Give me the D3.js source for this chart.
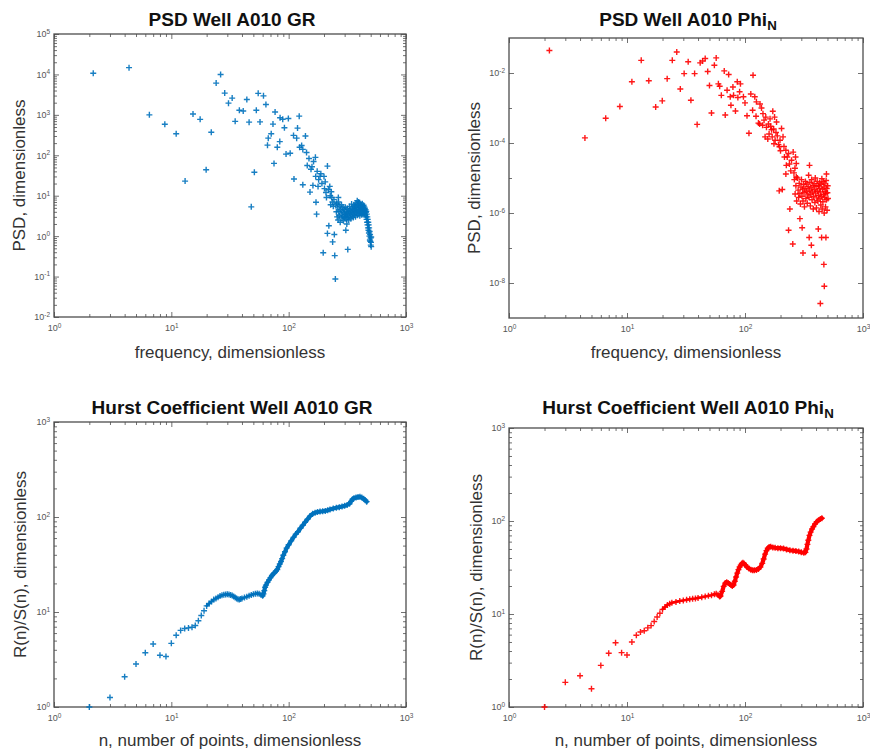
<!DOCTYPE html>
<html>
<head>
<meta charset="utf-8">
<script src="https://cdn.jsdelivr.net/npm/d3@7"></script>
<style>
  body { margin: 0; background: #fff; }
  text { font-family: "Liberation Sans", Arial, sans-serif; }
</style>
</head>
<body>
<script>
// ---- data: [x, y] pairs ----
const psdGr = [
  [2.16,1.07e4],[4.36,1.47e4],[6.5,1000],[8.8,585],[11.0,340],[13.1,23],[15.3,1050],[17.6,775],
  [19.8,44],[21.9,370],[24.1,6100],[26.3,1.0e4],[28.5,3450],[30.7,1950],[33,2600],[35,690],
  [38,1300],[41,1250],[44,2400],[46,660],[48,5.3],[51,38],[53,1300],[55,3400],[57,670],
  [61,2950],[64,1800],[66,178],[67,265],[71,340],[73.5,590],[75,63],[76.6,1180],[80,158],
  [84,218],[84.5,850],[89,780],[92,480],[95,107],[99.4,810],[103,112],[110,310],[111,26],
  [117,265],[119,470],[123,930],[124,158],[129,175],[132,140],[132,18.6],[139,300],[142,117],
  [144,56],[149,83],[152,12.3],[155,45],[158,52],[161,18],[163,70],[169,89],[170,30],[171,6.9],
  [173,3.5],[175,40],[178,17],[180,25],[185,30],[188,35],[192,20],[197,0.39],[200,30],[202,15],
  [205,22],[208,12],[210,9],[214,54],[214,1.17],[218,14],[220,1.8],[224,17],[226,10],[228,6],
  [231,12.5],[233,9],[236,7],[237,0.72],[240,5.5],[243,8],[245,1.1],[247,0.33],[250,0.087],
  [253,6],[255,4],[257,6.5],[259,3],[262,5],[264,2.5],[265,9],[266,7],[268,4],[270,3.2],
  [273,5.5],[275,2.2],[277,4.5],[280,3.5],[282,6],[284,2.8],[286,4.2],[289,3],[291,5],[293,2.4],
  [295,3.8],[298,4.6],[300,2.9],[302,3.4],[304,5.2],[306,3.1],[307,1.4],[309,4],[311,2.6],
  [313,2.0],[314,3.6],[316,4.8],[318,2.9],[319,0.47],[321,3.3],[323,4.2],[325,2.5],[328,3.8],
  [330,5.4],[332,3],[335,4.4],[337,3.5],[339,2.7],[342,4],[344,6.2],[346,3.2],[348,4.7],
  [351,3.6],[353,5],[355,2.9],[357,4.3],[360,6],[362,3.4],[364,4.9],[366,3.9],[368,5.3],
  [369,5.6],[371,3],[373,4.5],[375,6.6],[378,3.7],[380,5.1],[382,4],[384,7.5],[386,3.3],
  [389,5.8],[391,4.4],[392,7],[393,6.2],[395,3.6],[397,5],[400,4.1],[402,6.8],[404,3.2],
  [406,5.4],[408,4.5],[411,6],[413,3.8],[415,4.9],[417,5.7],[419,3.4],[422,4.6],[424,6.3],
  [426,4],[428,5.2],[430,3.5],[433,4.8],[435,5.8],[437,3.9],[439,4.4],[441,5.3],[444,3.6],
  [446,4.9],[448,4.2],[450,3.3],[452,4.5],[455,3.9],[457,3],[459,4.1],[461,2.6],[463,3.5],
  [466,2.2],[468,3],[470,1.9],[472,2.6],[474,1.6],[477,2.2],[479,1.4],[481,1.9],[483,1.2],
  [485,1.6],[488,1.0],[490,1.3],[492,0.8],[494,1.1],[496,0.75],[499,0.9],[501,0.6],[503,0.7],
  [505,0.95],[505,0.55]
];

const psdPhi = [
  [2.2,0.044],[4.4,1.4e-4],[6.6,5.1e-4],[8.7,1.1e-3],[11,5.6e-3],[13.2,0.023],[15.3,6e-3],
  [17.5,1.07e-3],[19.9,1.6e-3],[21.9,6.9e-3],[24.2,0.023],[26.4,0.04],[28.3,3.5e-3],[30.5,9.6e-3],
  [33,0.021],[34.8,1.66e-3],[37.4,9.6e-3],[39.3,3.4e-4],[41.7,0.0195],[43.7,0.022],[46,0.026],
  [48.3,0.011],[50,4.4e-3],[52,7.2e-4],[55,0.0167],[57,0.027],[59.5,4.9e-3],[61,4.2e-3],
  [63,2.3e-3],[66.7,0.0115],[68,6.3e-4],[70.5,3.2e-3],[72.7,9.1e-3],[75,2.1e-3],[76,1.2e-3],
  [79,4e-3],[80,2.3e-3],[83,8.2e-4],[86,5.6e-3],[87,2e-3],[90,2.9e-3],[91.5,4.9e-3],[97,2.1e-3],
  [100,1.4e-3],[104,6e-4],[108,1.9e-4],[112,2.5e-3],[116,8.6e-4],[117,8.6e-3],[121,2.1e-3],
  [124,5.8e-4],[125,1.5e-3],[130,3.7e-4],[133,3.5e-4],[134,1.3e-3],[138,1e-3],[141,3.2e-4],
  [142,6.9e-4],[145,4.5e-4],[148,1.5e-4],[150,5.5e-4],[152,2.8e-4],[156,1.3e-4],[158,3.5e-4],
  [160,1.8e-4],[163,4.9e-4],[165,3e-4],[168,2.4e-4],[170,1.5e-4],[172,8.1e-4],[175,2.5e-4],
  [176,9.5e-5],[178,5.5e-4],[180,1.2e-4],[183,2e-4],[185,4e-4],[188,1.6e-4],[192,9e-5],
  [195,4.3e-6],[196,7.8e-5],[198,1.2e-4],[200,6e-5],[204,2.6e-4],[207,4.7e-6],[210,1.5e-4],
  [214,8e-5],[216,4e-5],[222,6.2e-5],[222,1.3e-5],[224,2.3e-5],[228,4e-5],[234,5e-5],[234,3.2e-7],
  [238,2.5e-5],[240,1.3e-6],[244,1.6e-5],[248,3.2e-5],[254,1.3e-7],[256,5.5e-5],[260,1.4e-5],
  [262,9e-6],[265,1.9e-5],[266,3.5e-6],[268,4e-5],[270,6e-6],[272,2.6e-5],[272,1.07e-5],
  [274,2.2e-6],[278,1e-5],[282,4.5e-6],[285,2.8e-6],[288,7e-6],[292,3.6e-6],[292,6.9e-7],
  [295,1.8e-6],[298,5.5e-6],[301,9e-6],[304,3e-6],[305,3.8e-7],[307,4.8e-6],[310,2.2e-6],
  [310,7.2e-8],[313,6.5e-6],[316,3.8e-6],[319,1.5e-6],[322,5e-6],[325,8e-6],[328,2.6e-6],
  [331,4.2e-6],[334,6.8e-6],[337,1.9e-6],[340,3.3e-6],[343,5.6e-6],[346,1.2e-5],[349,2.8e-6],
  [350,2e-7],[352,2.3e-5],[352,4.5e-6],[355,7.5e-6],[358,1.6e-6],[361,3.5e-6],[364,5.2e-6],
  [365,1.2e-7],[367,9e-6],[370,2.4e-6],[373,4e-6],[376,6.2e-6],[379,1.3e-6],[382,3e-6],
  [385,7e-6],[388,4.6e-6],[390,6.2e-8],[391,2e-6],[394,1e-5],[397,3.7e-6],[400,5.8e-6],
  [403,1.4e-6],[406,2.7e-6],[409,8e-6],[412,4.2e-6],[415,2.2e-6],[418,6e-6],[418,3.5e-7],
  [421,3.2e-6],[424,1.1e-6],[427,5e-6],[430,7.2e-6],[433,2.5e-6],[435,2.6e-9],[436,4e-6],
  [439,1.7e-6],[442,6.5e-6],[445,3e-6],[446,2e-7],[448,9.5e-6],[451,1.3e-6],[454,4.8e-6],
  [457,2.1e-6],[460,7.8e-6],[463,3.4e-6],[466,5.5e-6],[466,3.4e-8],[469,1e-6],[470,8.1e-9],
  [472,2.8e-6],[475,6.8e-6],[478,4.2e-6],[481,1.5e-6],[484,3.6e-6],[485,2e-7],[487,8.5e-6],
  [490,1.3e-5],[490,2.4e-6],[493,5e-6],[496,1.2e-6],[499,3.8e-6],[502,6e-6],[505,2.6e-6]
];

const hurstGr = [
  [2,1.0],[3,1.26],[4,2.08],[5,2.84],[6,3.73],[7,4.6],[8,3.5],[9,3.4],[10,4.68],[11,5.7],
  [12,6.4],[13,6.7],[14,6.8],[15,6.9],[16,7.2],[17,8.1],[18,9.2],[19,10.3],[20,11.6],[21,12.3],
  [22,12.9],[23,13.5],[24,13.9],[25,14.3],[26,14.7],[27,15.0],[28,15.2],[29,15.3],[30,15.4],
  [31,15.3],[32,15.1],[33,14.9],[34,14.6],[35,14.2],[36,13.9],[37,13.6],[38,13.5],[39,13.7],
  [40,13.9],[42,14.2],[44,14.5],[46,14.8],[48,15.1],[50,15.4],[52,15.6],[54,15.7],[56,15.6],
  [58,15.2],[60,14.8],[61,15.5],[62,16.8],[63,18.2],[64,19.2],[66,20.5],[68,21.8],[70,23],
  [72,24.2],[74,25.2],[76,26],[78,27],[80,28],[82,30],[84,32],[86,34],[88,36.5],[90,39.5],
  [93,43],[96,47],[100,51],[105,56],[110,61],[115,66],[120,70],[126,76],[132,82],[138,88],
  [145,95],[152,102],[160,108],[168,111],[176,113],[185,114],[195,115],[205,116],[215,118],
  [225,120],[240,123],[255,125],[270,127],[285,129],[300,131],[315,134],[330,138],[340,146],
  [350,154],[360,158],[375,160],[390,162],[405,163],[420,160],[435,156],[450,150],[462,145]
];

const hurstPhi = [
  [2,1.0],[3,1.84],[4,2.17],[5,1.57],[6,2.8],[7,3.78],[8,4.9],[9,3.84],[10,3.62],[11,5.0],
  [12,5.9],[13,6.4],[14,6.6],[15,7.1],[16,7.5],[17,8.3],[18,9.3],[19,10.2],[20,11.2],[21,11.9],
  [22,12.5],[23,12.9],[24,13.2],[26,13.5],[28,13.8],[30,14.0],[32,14.2],[34,14.4],[36,14.6],
  [38,14.7],[40,14.9],[43,15.1],[46,15.4],[49,15.7],[52,15.9],[55,16.3],[57,16.5],[59,16.1],
  [61,15.4],[62,15.6],[64,17.5],[66,19.8],[68,21.5],[70,22],[72,21.5],[74,21],[76,20.5],
  [78,20],[80,20.5],[82,22.5],[84,25],[86,27.5],[88,30],[90,32],[92,33.5],[94,35],[96,35.5],
  [98,35],[101,33.5],[104,32],[108,30.8],[112,30],[116,29.6],[120,29.5],[125,29.8],[130,30.5],
  [135,32],[140,35],[144,39],[148,44],[152,48],[156,51],[160,52.5],[165,53],[172,52],
  [180,51.5],[190,51],[200,51],[212,50.5],[225,49.5],[240,48.5],[255,48],[270,47.5],[285,47],
  [300,46],[315,45.5],[325,46],[332,50],[338,56],[344,62],[352,70],[360,76],[370,82],[380,87],
  [392,93],[405,98],[420,102],[435,105],[448,107]
];

const xTickExps = [0, 1, 2, 3];
const yTickExpsPsdGr = [-2, -1, 0, 1, 2, 3, 4, 5];
const yTickExpsPsdPhi = [-8, -6, -4, -2];
const yTickExpsHurst = [0, 1, 2, 3];

const BLUE = "#0072BD", RED = "#FF0000";

const svg = d3.select("body").append("svg")
  .attr("width", 870).attr("height", 751);

function minorsFor(lo, hi) {
  const out = [];
  for (let e = lo; e < hi; e++)
    for (let m = 2; m <= 9; m++) out.push(m * Math.pow(10, e));
  return out;
}

function supLabel(sel) {
  sel.each(function(d) {
    const t = d3.select(this);
    const e = Math.round(Math.log10(d));
    t.text("10");
    t.append("tspan").attr("dy", "-0.55em").attr("font-size", "0.72em").text(e);
  });
}

function panel(cfg) {
  const g = svg.append("g");
  const x = d3.scaleLog().domain([1, 1000]).range([cfg.x0, cfg.x1]);
  const y = d3.scaleLog().domain(cfg.yDomain).range([cfg.y1, cfg.y0]);
  const axisColor = "#4d4d4d";

  const xMaj = xTickExps.map(e => Math.pow(10, e));
  const yMaj = cfg.yExps.map(e => Math.pow(10, e));
  const xMin = minorsFor(0, 3);
  const yMin = cfg.yMinor;

  function styleAxis(a) {
    a.select(".domain").remove();
    a.selectAll("line").attr("stroke", axisColor).attr("stroke-width", 0.8);
    a.selectAll("text").attr("fill", "#555").attr("font-size", 9);
  }

  // bottom
  const bx = g.append("g").attr("transform", `translate(0,${cfg.y1})`)
    .call(d3.axisBottom(x).tickValues(xMaj).tickSize(-5).tickPadding(8).tickFormat(() => ""));
  bx.selectAll(".tick text").call(supLabel);
  styleAxis(bx);
  g.append("g").attr("transform", `translate(0,${cfg.y1})`)
    .call(d3.axisBottom(x).tickValues(xMin).tickSize(-3).tickFormat(() => "")).call(styleAxis);
  // top
  g.append("g").attr("transform", `translate(0,${cfg.y0})`)
    .call(d3.axisTop(x).tickValues(xMaj).tickSize(-5).tickFormat(() => "")).call(styleAxis);
  g.append("g").attr("transform", `translate(0,${cfg.y0})`)
    .call(d3.axisTop(x).tickValues(xMin).tickSize(-3).tickFormat(() => "")).call(styleAxis);
  // left
  const ly = g.append("g").attr("transform", `translate(${cfg.x0},0)`)
    .call(d3.axisLeft(y).tickValues(yMaj).tickSize(-5).tickPadding(4).tickFormat(() => ""));
  ly.selectAll(".tick text").call(supLabel);
  styleAxis(ly);
  g.append("g").attr("transform", `translate(${cfg.x0},0)`)
    .call(d3.axisLeft(y).tickValues(yMin).tickSize(-3).tickFormat(() => "")).call(styleAxis);
  // right
  g.append("g").attr("transform", `translate(${cfg.x1},0)`)
    .call(d3.axisRight(y).tickValues(yMaj).tickSize(-5).tickFormat(() => "")).call(styleAxis);
  g.append("g").attr("transform", `translate(${cfg.x1},0)`)
    .call(d3.axisRight(y).tickValues(yMin).tickSize(-3).tickFormat(() => "")).call(styleAxis);

  // box
  g.append("rect")
    .attr("x", cfg.x0).attr("y", cfg.y0)
    .attr("width", cfg.x1 - cfg.x0).attr("height", cfg.y1 - cfg.y0)
    .attr("fill", "none").attr("stroke", axisColor).attr("stroke-width", 1.3);

  // dense stretch of the hurst curves: markers overlap into a thick band
  if (cfg.lineFrom) {
    const line = d3.line().x(d => x(d[0])).y(d => y(d[1]));
    g.append("path")
      .datum(cfg.data.filter(d => d[0] >= cfg.lineFrom))
      .attr("d", line).attr("fill", "none")
      .attr("stroke", cfg.color).attr("stroke-width", 2.6)
      .attr("stroke-linejoin", "round").attr("stroke-linecap", "round");
    g.append("path")
      .datum(cfg.data.filter(d => d[0] >= 60))
      .attr("d", line).attr("fill", "none")
      .attr("stroke", cfg.color).attr("stroke-width", 4.2)
      .attr("stroke-linejoin", "round").attr("stroke-linecap", "round");
  }

  // markers
  g.append("g").selectAll("path")
    .data(cfg.data)
    .join("path")
    .attr("transform", d => `translate(${x(d[0])},${y(d[1])})`)
    .attr("d", "M-3,0H3M0,-3V3")
    .attr("stroke", cfg.color).attr("stroke-width", 1.4)
    .attr("opacity", 0.9);

  // title
  const t = g.append("text")
    .attr("x", cfg.titleX).attr("y", cfg.titleY)
    .attr("text-anchor", "middle").attr("font-weight", "bold")
    .attr("font-size", 19).attr("fill", "#111")
    .text(cfg.title);
  if (cfg.sub) t.append("tspan").attr("dy", "0.3em").attr("font-size", "0.7em").text(cfg.sub);

  g.append("text")
    .attr("x", (cfg.x0 + cfg.x1) / 2).attr("y", cfg.xlabY)
    .attr("text-anchor", "middle").attr("font-size", 17).attr("fill", "#333")
    .text(cfg.xlab);

  g.append("text")
    .attr("transform", `translate(${cfg.ylabX},${(cfg.y0 + cfg.y1) / 2}) rotate(-90)`)
    .attr("text-anchor", "middle").attr("font-size", 17).attr("fill", "#333")
    .text(cfg.ylab);
}

panel({
  x0: 54, x1: 406, y0: 34, y1: 317, yDomain: [1e-2, 1e5],
  yExps: yTickExpsPsdGr, yMinor: minorsFor(-2, 5),
  data: psdGr, color: BLUE,
  title: "PSD Well A010 GR", titleX: 232, titleY: 26,
  xlab: "frequency, dimensionless", xlabY: 358,
  ylab: "PSD, dimensionless", ylabX: 25
});

panel({
  x0: 509, x1: 863, y0: 38, y1: 318, yDomain: [1e-9, 1e-1],
  yExps: yTickExpsPsdPhi, yMinor: [1e-7, 1e-5, 1e-3],
  data: psdPhi, color: RED,
  title: "PSD Well A010 Phi", sub: "N", titleX: 688, titleY: 26,
  xlab: "frequency, dimensionless", xlabY: 358,
  ylab: "PSD, dimensionless", ylabX: 480
});

panel({
  x0: 54, x1: 406, y0: 422, y1: 707, yDomain: [1, 1000],
  yExps: yTickExpsHurst, yMinor: minorsFor(0, 3),
  data: hurstGr, color: BLUE, lineFrom: 20,
  title: "Hurst Coefficient Well A010 GR", titleX: 232, titleY: 414,
  xlab: "n, number of points, dimensionless", xlabY: 746,
  ylab: "R(n)/S(n), dimensionless", ylabX: 26
});

panel({
  x0: 509, x1: 863, y0: 428, y1: 707, yDomain: [1, 1000],
  yExps: yTickExpsHurst, yMinor: minorsFor(0, 3),
  data: hurstPhi, color: RED, lineFrom: 20,
  title: "Hurst Coefficient Well A010 Phi", sub: "N", titleX: 688, titleY: 414,
  xlab: "n, number of points, dimensionless", xlabY: 746,
  ylab: "R(n)/S(n), dimensionless", ylabX: 482
});
</script>
</body>
</html>
